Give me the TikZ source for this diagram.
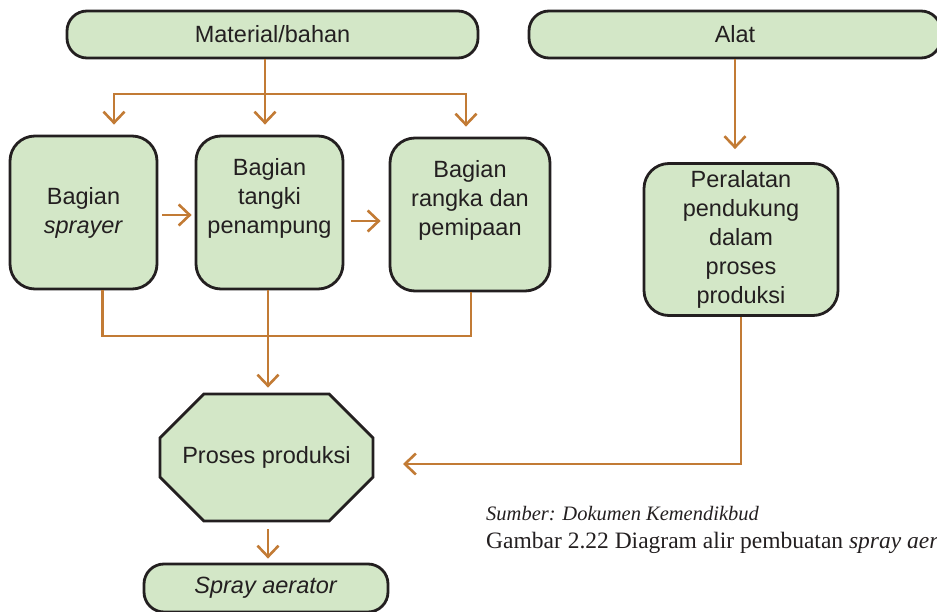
\documentclass[tikz,border=0pt]{standalone}
\usepackage{fontspec}
\setmainfont{Liberation Sans}
\newfontfamily\capfont{Liberation Serif}
\usetikzlibrary{arrows.meta,shapes.misc}
\definecolor{boxfill}{HTML}{D3E7C7}
\definecolor{conn}{HTML}{C27B35}
\definecolor{ink}{HTML}{231F20}
\begin{document}
\begin{tikzpicture}[x=1pt,y=-1pt,
 box/.style={draw=ink, line width=2.8pt, fill=boxfill, rounded corners=#1, inner sep=0pt, text=ink, font=\fontsize{23.5}{29}\selectfont, align=center},
 box/.default=20pt,
 lbl/.style={text=ink, font=\fontsize{23.5}{29}\selectfont, align=center, inner sep=0pt},
 line/.style={draw=conn, line width=2.6pt},
 arr/.style={line, -{Straight Barb[length=11pt,width=21pt]}},
]
\useasboundingbox (0,0) rectangle (937,612);
\clip (0,0) rectangle (937,612);

% boxes
\node[box=20pt, minimum width=411pt, minimum height=47pt] (mat) at (272.5,34.5) {Material/bahan};
\node[box=20pt, minimum width=412pt, minimum height=47pt] (alat) at (735,34.5) {Alat};
\node[box=25pt, minimum width=147pt, minimum height=153pt] (spr) at (83.5,212.5) {Bagian\\\textit{sprayer}};
\node[box=25pt, minimum width=147pt, minimum height=153pt] (tan) at (269.5,212.5) {};
\node[lbl] (tanT) at (269.5,198) {Bagian\\tangki\\penampung};
\node[box=25pt, minimum width=160pt, minimum height=153pt] (ran) at (470,214.5) {};
\node[lbl] (ranT) at (470,200.5) {Bagian\\rangka dan\\pemipaan};
\node[box=25pt, minimum width=194pt, minimum height=152pt] (per) at (741,239.5) {Peralatan\\pendukung\\dalam\\proses\\produksi};
\node[draw=ink, line width=2.8pt, fill=boxfill, chamfered rectangle, chamfered rectangle xsep=33pt, chamfered rectangle ysep=33pt, minimum width=213pt, minimum height=127pt, inner sep=0pt, text=ink, font=\fontsize{23.5}{29}\selectfont] (pro) at (266.5,457.5) {Proses produksi};
\node[box=20pt, minimum width=244pt, minimum height=48pt] (spa) at (266,588) {\textit{Spray aerator}};

% connectors from Material/bahan
\coordinate (j) at (265,94);
\coordinate (jL) at (114,94);
\coordinate (jR) at (466,94);
\draw[arr, shorten >=10pt] (mat.south -| j) -- (j |- tan.north);
\draw[arr, shorten >=10pt] (j) -- (jL) -- (jL |- spr.north);
\draw[arr, shorten >=10pt] (j) -- (jR) -- (jR |- ran.north);

% horizontal arrows between parts
\draw[arr, shorten <=4pt, shorten >=3pt] ([yshift=-2.5pt]spr.east) -- ([yshift=-2.5pt]spr.east -| tan.west);
\draw[arr, shorten <=7pt, shorten >=8pt] ([yshift=-8.5pt]tan.east) -- ([yshift=-8.5pt]tan.east -| ran.west);

% merge to production
\coordinate (mL) at (102.5,336);
\coordinate (mR) at (471,336);
\coordinate (mC) at (268,336);
\draw[line] (spr.south -| mL) -- (mL) -- (mR) -- (mR |- ran.south);
\draw[arr, shorten >=5pt] (tan.south -| mC) -- (mC |- pro.north);

% right side
\draw[arr, shorten >=13pt] (alat.south) -- (alat.south |- per.north);
\coordinate (pin) at (403,464);
\draw[arr] (per.south) |- (pin);

% production to product
\draw[arr, shorten <=7pt, shorten >=4pt] (pro.south -| mC) -- (mC |- spa.north);

% caption
\node[anchor=base west, inner sep=0pt, text=ink, font=\capfont\itshape\fontsize{20.5}{24}\selectfont] (src) at (486,520) {Sumber: Dokumen Kemendikbud};
\node[anchor=base west, inner sep=0pt, text=ink, font=\capfont\fontsize{23.5}{28}\selectfont] (cap) at (486,548) {Gambar 2.22 Diagram alir pembuatan \textit{spray aerator}};
\end{tikzpicture}
\end{document}
